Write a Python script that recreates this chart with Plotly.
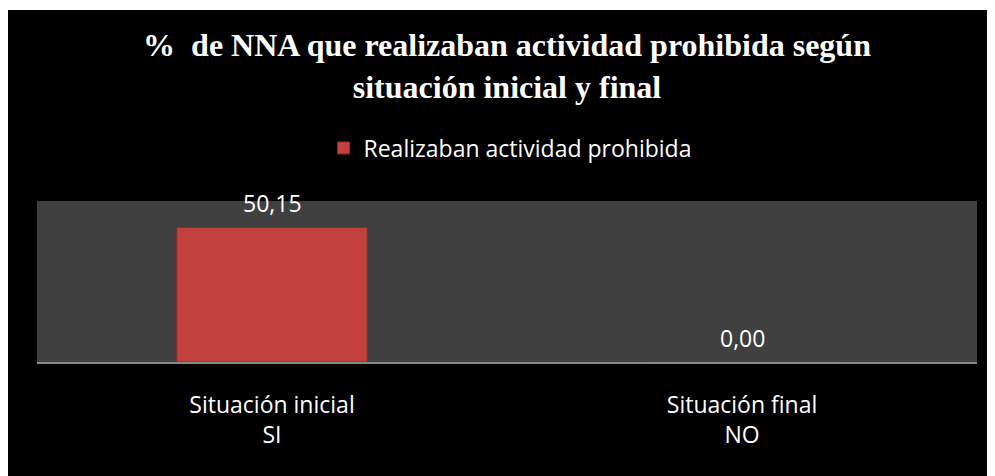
import plotly.graph_objects as go

categories = ["Situación inicial<br>SI", "Situación final<br>NO"]
values = [50.15, 0.00]
series_name = "Realizaban actividad prohibida"
title_text = "<b>%\u00a0 de NNA que realizaban actividad prohibida según<br>situación inicial y final</b>"

# The page body has an 8px default margin; the figure fills the rest of the window.
OFF = 8
W, H = 995 - OFF, 476 - OFF
ML, MR, MT, MB = 37 - OFF, 18, 201 - OFF, 114
PW, PH = W - ML - MR, H - MT - MB

def px_to_paper_x(px):
    return (px - OFF - ML) / PW

def px_to_paper_y(py):
    return (H - MB - (py - OFF)) / PH

fig = go.Figure()
fig.add_trace(go.Bar(
    x=categories,
    y=values,
    name=series_name,
    width=0.405,
    marker=dict(color="#C2403D", line=dict(color="#8A2B29", width=1)),
    showlegend=True,
    hoverinfo="skip",
))

labels = [f"{v:.2f}".replace(".", ",") for v in values]
annotations = []
for c, v, t in zip(categories, values, labels):
    annotations.append(dict(
        x=c, y=v, xref="x", yref="y", text=t, showarrow=False,
        yanchor="middle", yshift=24,
        font=dict(family="Open Sans", size=23, color="white"),
    ))

shapes = [
    # white strip on the top (reference has 10px, body margin gives 8px)
    dict(type="rect", xref="paper", yref="paper",
         x0=px_to_paper_x(0), x1=px_to_paper_x(1000),
         y0=px_to_paper_y(10), y1=px_to_paper_y(0),
         fillcolor="white", line=dict(width=0), layer="below"),
]

fig.update_layout(
    width=W, height=H,
    margin=dict(l=ML, r=MR, t=MT, b=MB),
    paper_bgcolor="black",
    plot_bgcolor="#404040",
    title=dict(
        text=title_text,
        x=(507 - OFF) / W, xanchor="center",
        y=1 - (56 - OFF) / H, yanchor="top",
        font=dict(family="Liberation Serif", size=32, color="white"),
    ),
    legend=dict(
        orientation="h",
        x=px_to_paper_x(510), xanchor="center",
        y=px_to_paper_y(148), yanchor="middle",
        font=dict(family="Open Sans", size=23, color="white"),
        bgcolor="rgba(0,0,0,0)",
    ),
    xaxis=dict(
        showline=True, linecolor="#888888", linewidth=2,
        showgrid=False, zeroline=False,
        ticks="outside", ticklen=21, tickcolor="rgba(0,0,0,0)",
        tickfont=dict(family="Open Sans", size=23, color="white"),
        fixedrange=True,
    ),
    yaxis=dict(
        range=[0, 60], visible=False, showgrid=False, zeroline=False,
        fixedrange=True,
    ),
    annotations=annotations,
    shapes=shapes,
    bargap=0.2,
)

fig.write_html("out.html")
